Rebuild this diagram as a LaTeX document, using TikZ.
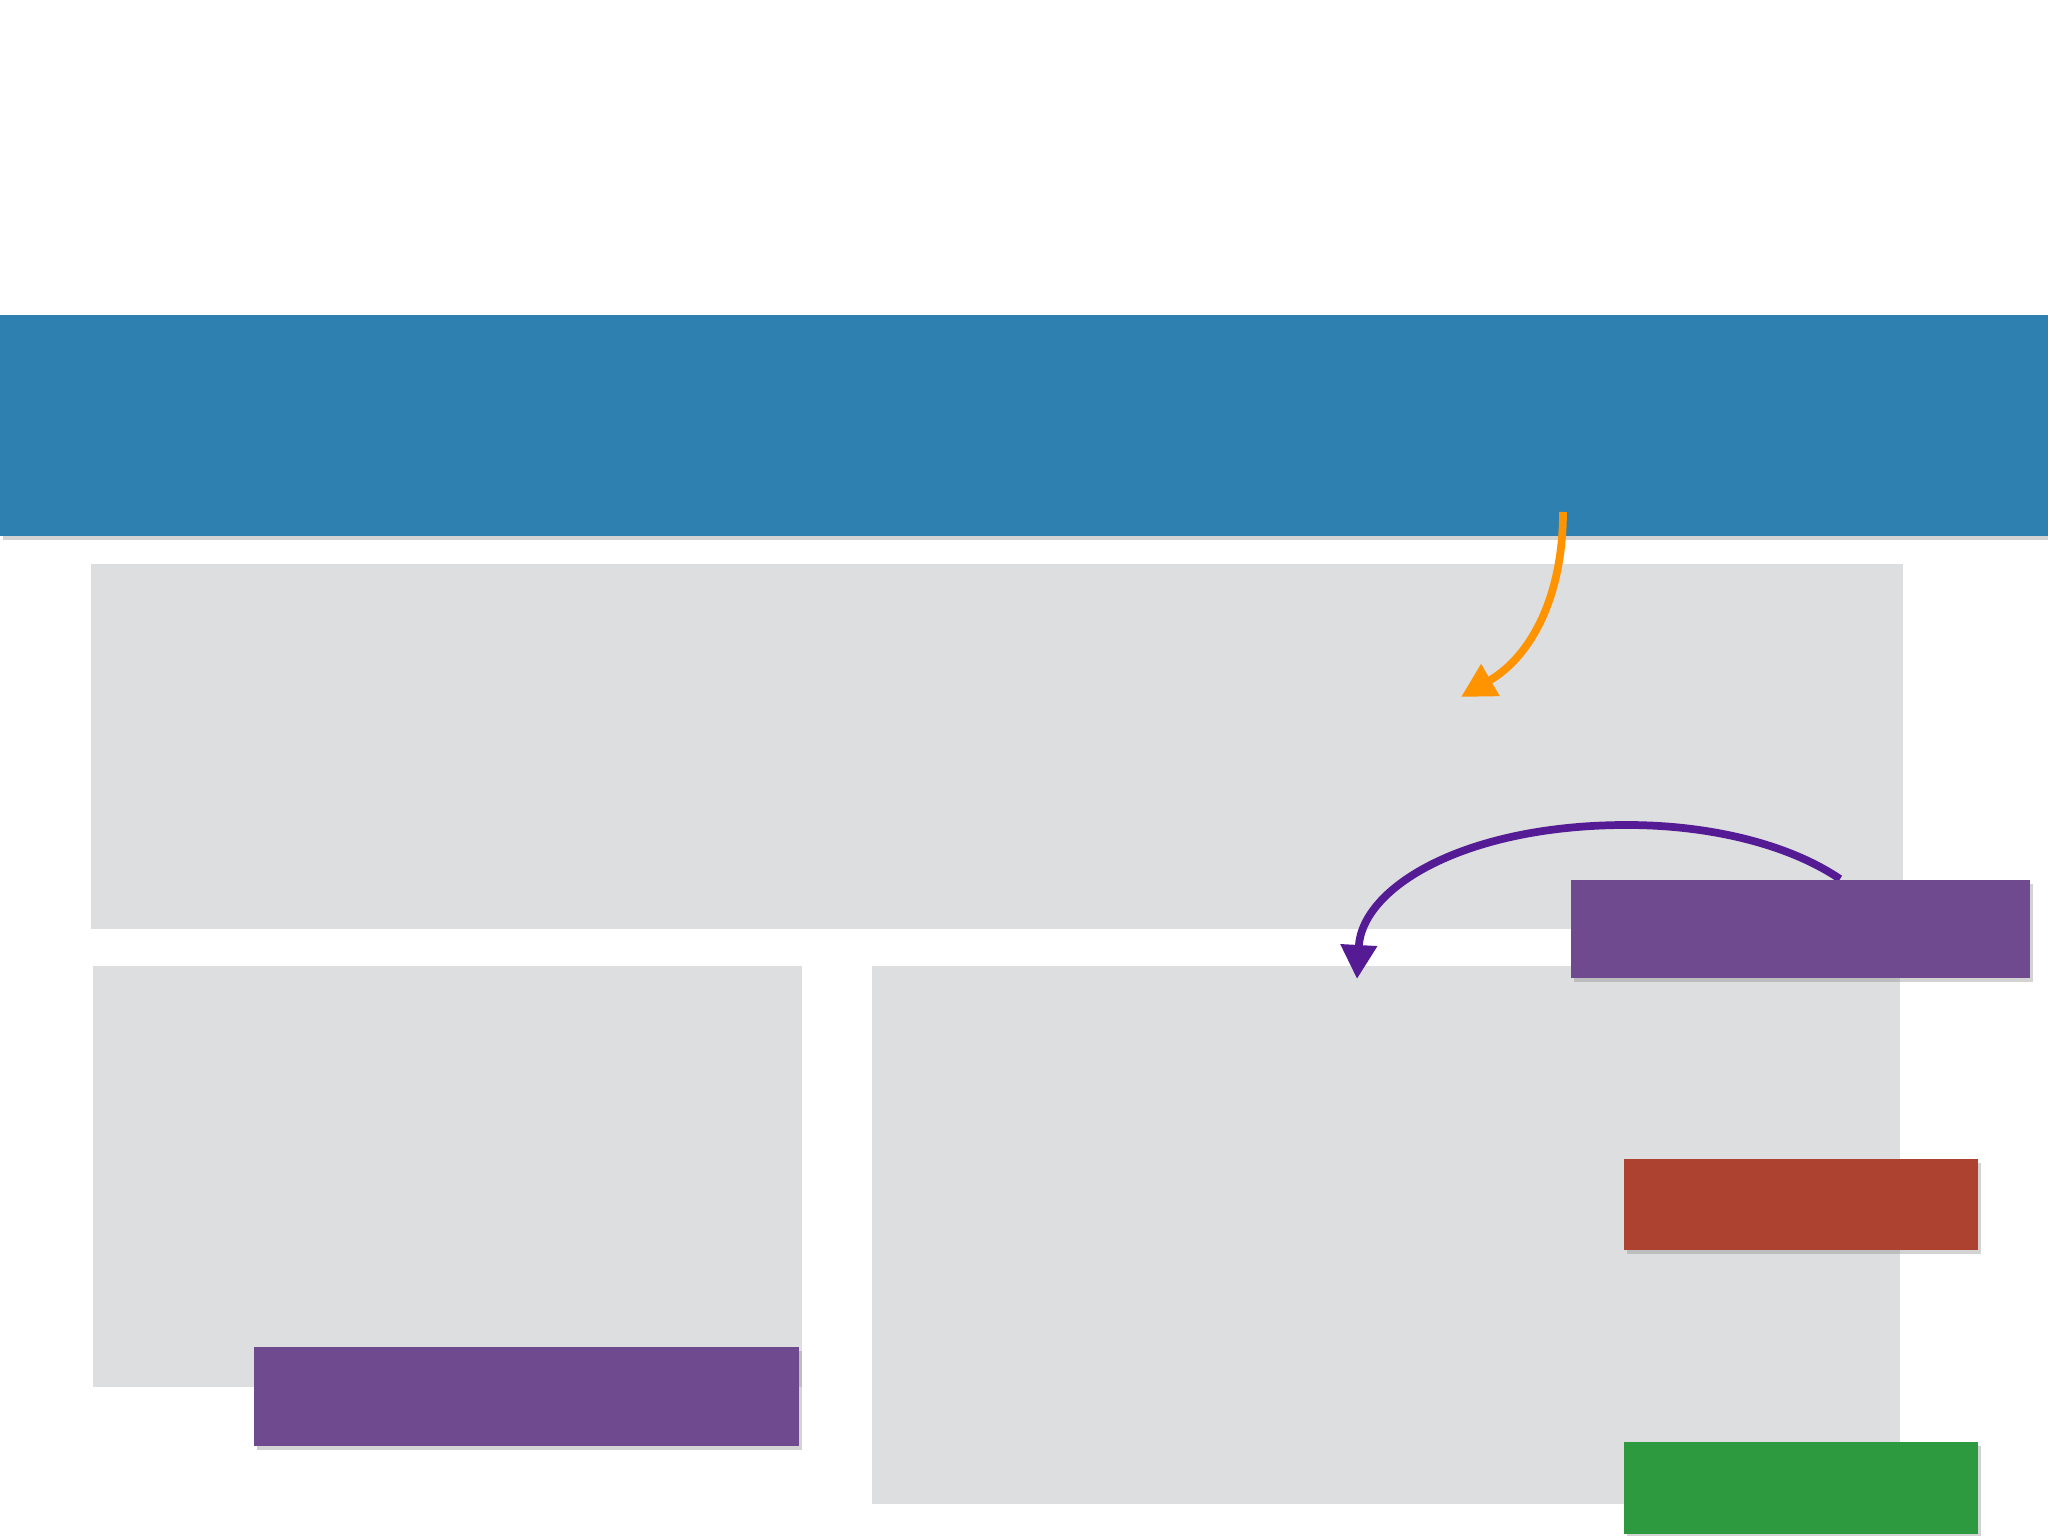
\documentclass[tikz,border=0pt]{standalone}
\usetikzlibrary{arrows.meta,shadows}
\definecolor{bandblue}{HTML}{2E80B1}
\definecolor{panelgray}{HTML}{DDDEE0}
\definecolor{notepurple}{HTML}{6F4A8E}
\definecolor{notered}{HTML}{AE4230}
\definecolor{notegreen}{HTML}{2E9A40}
\definecolor{arroworange}{HTML}{FF9300}
\definecolor{arrowpurple}{HTML}{541B95}
\begin{document}
\begin{tikzpicture}[
  panel/.style={rectangle,fill=panelgray,inner sep=0,outer sep=0,anchor=north west},
  note/.style={panel,drop shadow={shadow xshift=0.03cm,shadow yshift=-0.04cm,opacity=0.35}},
  link/.style={line width=2.2pt,-{Triangle[length=0.34cm,width=0.35cm]}}]
  \useasboundingbox (0,0) rectangle (20.48,-15.36);

  \node [panel,minimum width=18.12cm,minimum height=3.65cm] (top) at (0.91,-5.64) {};
  \node [panel,minimum width=7.09cm,minimum height=4.21cm] (left) at (0.93,-9.66) {};
  \node [panel,minimum width=10.28cm,minimum height=5.38cm] (right) at (8.72,-9.66) {};

  \node [note,fill=bandblue,minimum width=20.48cm,minimum height=2.21cm] (band) at (0,-3.15) {};

  \coordinate (ostart) at (15.63,-5.12);
  \coordinate (otip) at (14.61,-6.97);
  \draw [link,arroworange] (ostart) to[out=-90,in=30] (otip);

  \coordinate (pstart) at (18.40,-8.79);
  \coordinate (ptop) at (16.27,-8.25);
  \coordinate (ptip) at (13.57,-9.79);
  \draw [link,arrowpurple] (pstart) .. controls (17.90,-8.45) and (17.12,-8.25) .. (ptop)
    .. controls (14.65,-8.25) and (13.62,-8.87) .. (ptip);

  \node [note,fill=notepurple,minimum width=4.59cm,minimum height=0.98cm] (tag) at (15.71,-8.80) {};
  \node [note,fill=notered,minimum width=3.54cm,minimum height=0.91cm] (red) at (16.24,-11.59) {};
  \node [note,fill=notegreen,minimum width=3.54cm,minimum height=0.92cm] (green) at (16.24,-14.42) {};
  \node [note,fill=notepurple,minimum width=5.45cm,minimum height=0.99cm] (low) at (2.54,-13.47) {};
\end{tikzpicture}
\end{document}
